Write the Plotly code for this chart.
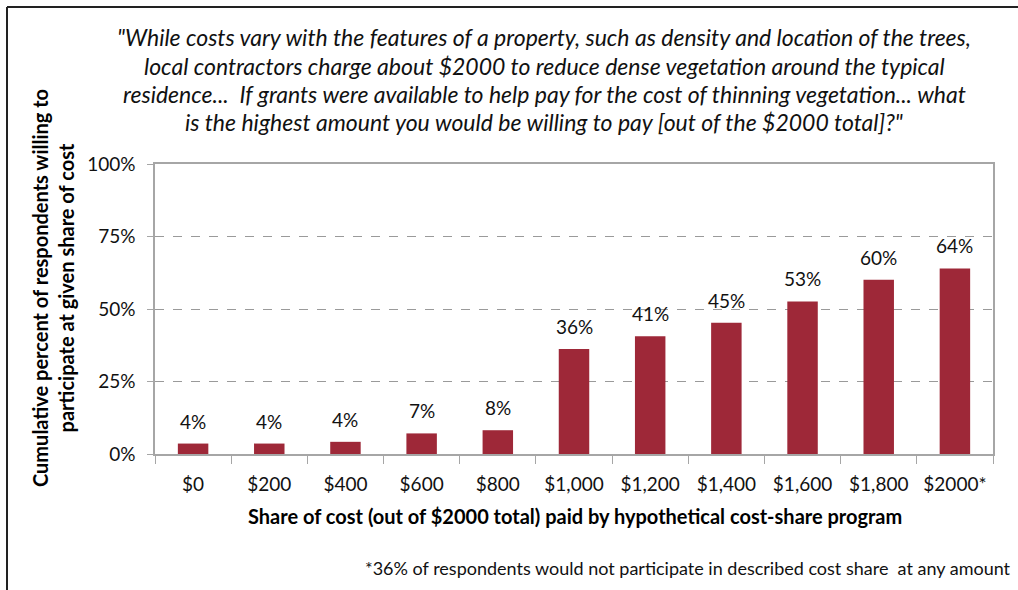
import plotly.graph_objects as go

categories = ["$0", "$200", "$400", "$600", "$800", "$1,000", "$1,200", "$1,400", "$1,600", "$1,800", "$2000*"]
values = [3.6, 3.6, 4.2, 7.1, 8.2, 36.2, 40.6, 45.3, 52.6, 60.1, 64.0]
labels = ["4%", "4%", "4%", "7%", "8%", "36%", "41%", "45%", "53%", "60%", "64%"]
y_ticks = [0, 25, 50, 75, 100]
y_tick_text = ["0%", "25%", "50%", "75%", "100%"]

title_lines = ['"While costs vary with the features of a property, such as density and location of the trees,',
               'local contractors charge about $2000 to reduce dense vegetation around the typical',
               'residence...  If grants were available to help pay for the cost of thinning vegetation... what',
               'is the highest amount you would be willing to pay [out of the $2000 total]?"']
title_line_y = [37, 65.5, 94, 122]

W, H = 1018, 590
L, R, T, B = 155, 993, 164, 454
FONT = "Lato"
BAR = "#9E2838"
TXT = "#111111"

def px_x(p):
    return (p - L) / (R - L)

def px_y(p):
    return (B - p) / (B - T)

fig = go.Figure()
fig.add_trace(go.Bar(x=categories, y=values, marker=dict(color=BAR, line=dict(width=0)),
                     hoverinfo="skip"))

annotations = []
for c, v, t in zip(categories, values, labels):
    annotations.append(dict(x=c, y=v, xref="x", yref="y", text=t, showarrow=False,
                            yanchor="bottom", yshift=9, font=dict(size=19, color=TXT, family=FONT)))

for line, ly in zip(title_lines, title_line_y):
    annotations.append(dict(x=px_x(544), y=px_y(ly), xref="paper", yref="paper", text=line,
                            showarrow=False, xanchor="center", yanchor="middle", align="center",
                            font=dict(size=23, color=TXT, family=FONT, style="italic")))
annotations.append(dict(x=px_x(53), y=px_y(288), xref="paper", yref="paper",
                        text="<b>Cumulative percent of respondents willing to<br>participate at given share of cost</b>",
                        showarrow=False, textangle=-90, xanchor="center", yanchor="middle", align="center",
                        font=dict(size=20, color="#000000", family=FONT)))
annotations.append(dict(x=px_x(575), y=px_y(516), xref="paper", yref="paper",
                        text="<b>Share of cost (out of $2000 total) paid by hypothetical cost-share program</b>",
                        showarrow=False, xanchor="center", yanchor="middle",
                        font=dict(size=20, color="#000000", family=FONT)))
annotations.append(dict(x=px_x(1013), y=px_y(568), xref="paper", yref="paper",
                        text="*36% of respondents would not participate in described cost share  at any amount",
                        showarrow=False, xanchor="right", yanchor="middle",
                        font=dict(size=18, color=TXT, family=FONT)))

shapes = [
    dict(type="line", xref="paper", yref="paper", x0=px_x(7), x1=px_x(1018), y0=px_y(7), y1=px_y(7),
         line=dict(color="#222222", width=2), layer="above"),
    dict(type="line", xref="paper", yref="paper", x0=px_x(7), x1=px_x(7), y0=px_y(7), y1=px_y(590),
         line=dict(color="#222222", width=2), layer="above"),
]

fig.update_layout(
    width=W, height=H,
    margin=dict(l=L, r=W - R, t=T, b=H - B, pad=0),
    paper_bgcolor="white", plot_bgcolor="white",
    showlegend=False,
    bargap=0.6,
    annotations=annotations,
    shapes=shapes,
    font=dict(family=FONT, size=19, color=TXT),
    xaxis=dict(type="category", showline=True, linecolor="#A6A6A6", linewidth=1.5, mirror=True,
               ticks="outside", ticklen=8, tickcolor="#A6A6A6", tickson="boundaries",
               ticklabelstandoff=12,
               tickfont=dict(size=19, color=TXT, family=FONT), showgrid=False),
    yaxis=dict(range=[0, 100], tickvals=y_ticks, ticktext=y_tick_text, showline=True,
               linecolor="#A6A6A6", linewidth=1.5, mirror=True, ticks="outside", ticklen=6,
               ticklabelstandoff=8,
               tickcolor="#A6A6A6", showgrid=True, gridcolor="#9A9A9A", griddash="dash", gridwidth=1,
               zeroline=False, tickfont=dict(size=19, color=TXT, family=FONT)),
)

fig.write_html("out.html", config={"displayModeBar": False},
               post_script="document.body.style.margin='0';")
